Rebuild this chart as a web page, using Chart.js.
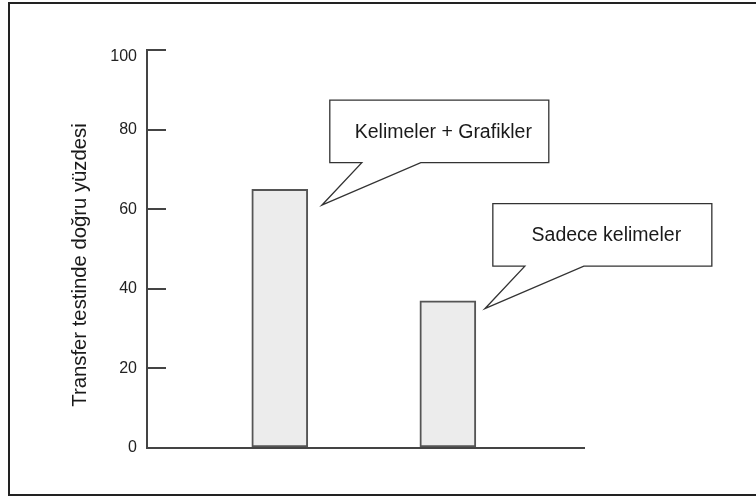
<!DOCTYPE html>
<html lang="tr">

<head>
    <meta charset="UTF-8" />
    <meta name="viewport" content="width=device-width, initial-scale=1.0" />
    <title>Transfer testi</title>
    <script src="https://cdn.jsdelivr.net/npm/chart.js"></script>
    <style>
        body {
            margin: 0;
            background-color: #fff;
            overflow: hidden;
        }

        .frame {
            position: absolute;
            left: 8px;
            top: 2px;
            width: 800px;
            height: 494px;
            box-sizing: border-box;
            border: 2px solid #222;
        }

        #chart {
            position: absolute;
            left: 0;
            top: 0;
        }
    </style>
</head>

<body>
    <div class="frame"></div>
    <canvas id="chart" width="756" height="498"></canvas>

    <script>
        const conditions = ['Kelimeler + Grafikler', 'Sadece kelimeler'];
        const correctPct = [65, 37];
        const yTicks = [0, 20, 40, 60, 80, 100];
        const yTitle = 'Transfer testinde doğru yüzdesi';

        const FONT = "'Liberation Sans', Arial, sans-serif";
        Chart.defaults.font.family = FONT;
        Chart.defaults.color = '#222';

        // y title sits a bit below the middle of the axis, so it is drawn here
        const yTitlePlugin = {
            id: 'yTitle',
            afterDraw(chart, args, opts) {
                const { ctx, chartArea } = chart;
                ctx.save();
                ctx.translate(opts.x, (chartArea.top + chartArea.bottom) / 2 + opts.shift);
                ctx.rotate(-Math.PI / 2);
                ctx.fillStyle = '#1a1a1a';
                ctx.font = '20.3px ' + FONT;
                ctx.textAlign = 'center';
                ctx.textBaseline = 'middle';
                ctx.fillText(yTitle, 0, 0);
                ctx.restore();
            }
        };

        // speech bubbles pointing at the bars
        const calloutPlugin = {
            id: 'callouts',
            afterDatasetsDraw(chart, args, opts) {
                const { ctx, scales: { x, y } } = chart;
                ctx.save();
                opts.tips.forEach((tip, i) => {
                    const tx = x.getPixelForValue(tip.x);
                    const ty = y.getPixelForValue(tip.y);
                    const left = tx + opts.dx;
                    const top = ty + opts.dy;
                    const right = left + opts.w;
                    const bottom = top + opts.h;

                    ctx.beginPath();
                    ctx.moveTo(tx, ty);
                    ctx.lineTo(tx + opts.baseEnd, bottom);
                    ctx.lineTo(right, bottom);
                    ctx.lineTo(right, top);
                    ctx.lineTo(left, top);
                    ctx.lineTo(left, bottom);
                    ctx.lineTo(tx + opts.baseStart, bottom);
                    ctx.closePath();
                    ctx.fillStyle = '#fff';
                    ctx.fill();
                    ctx.lineWidth = 1.3;
                    ctx.strokeStyle = '#333';
                    ctx.stroke();

                    ctx.fillStyle = '#1a1a1a';
                    ctx.font = '19.5px ' + FONT;
                    ctx.textAlign = 'center';
                    ctx.textBaseline = 'middle';
                    ctx.fillText(conditions[i], (left + right) / 2 + 4, (top + bottom) / 2 + 1);
                });
                ctx.restore();
            }
        };

        const ctx = document.getElementById('chart').getContext('2d');
        new Chart(ctx, {
            type: 'bar',
            data: {
                datasets: [{
                    data: conditions.map((c, i) => ({ x: i + 1, y: correctPct[i] })),
                    backgroundColor: '#ececec',
                    borderColor: '#555',
                    borderWidth: 2,
                    borderSkipped: false,
                    barThickness: 56
                }]
            },
            options: {
                responsive: false,
                animation: false,
                devicePixelRatio: 1,
                layout: {
                    padding: { left: 64, right: 172, top: 50, bottom: 50 }
                },
                plugins: {
                    legend: { display: false },
                    tooltip: { enabled: false },
                    yTitle: { x: 80, shift: 16 },
                    callouts: {
                        tips: [{ x: 1.25, y: 61 }, { x: 2.22, y: 35 }],
                        dx: 8, dy: -105, w: 219, h: 62.5,
                        baseStart: 40, baseEnd: 99
                    }
                },
                scales: {
                    x: {
                        type: 'linear',
                        min: 0.21,
                        max: 2.81,
                        offset: false,
                        ticks: { display: false },
                        grid: { display: false, drawTicks: false },
                        border: { display: true, color: '#444', width: 2 }
                    },
                    y: {
                        min: 0,
                        max: 100,
                        afterBuildTicks: scale => {
                            scale.ticks = yTicks.map(v => ({ value: v }));
                        },
                        afterFit: scale => {
                            scale.width = 83;
                        },
                        ticks: {
                            padding: 29,
                            color: '#222',
                            // the top label sits a little lower in the original
                            callback: v => v === 100 ? ['', '100'] : String(v),
                            font: c => c.tick && c.tick.value === 100
                                ? { size: 16, lineHeight: 0.8 }
                                : { size: 16 }
                        },
                        grid: {
                            drawOnChartArea: false,
                            tickLength: -19,
                            color: '#444',
                            lineWidth: 2
                        },
                        border: { display: true, color: '#444', width: 2 },
                        title: { display: false }
                    }
                }
            },
            plugins: [calloutPlugin, yTitlePlugin]
        });
    </script>
</body>

</html>
